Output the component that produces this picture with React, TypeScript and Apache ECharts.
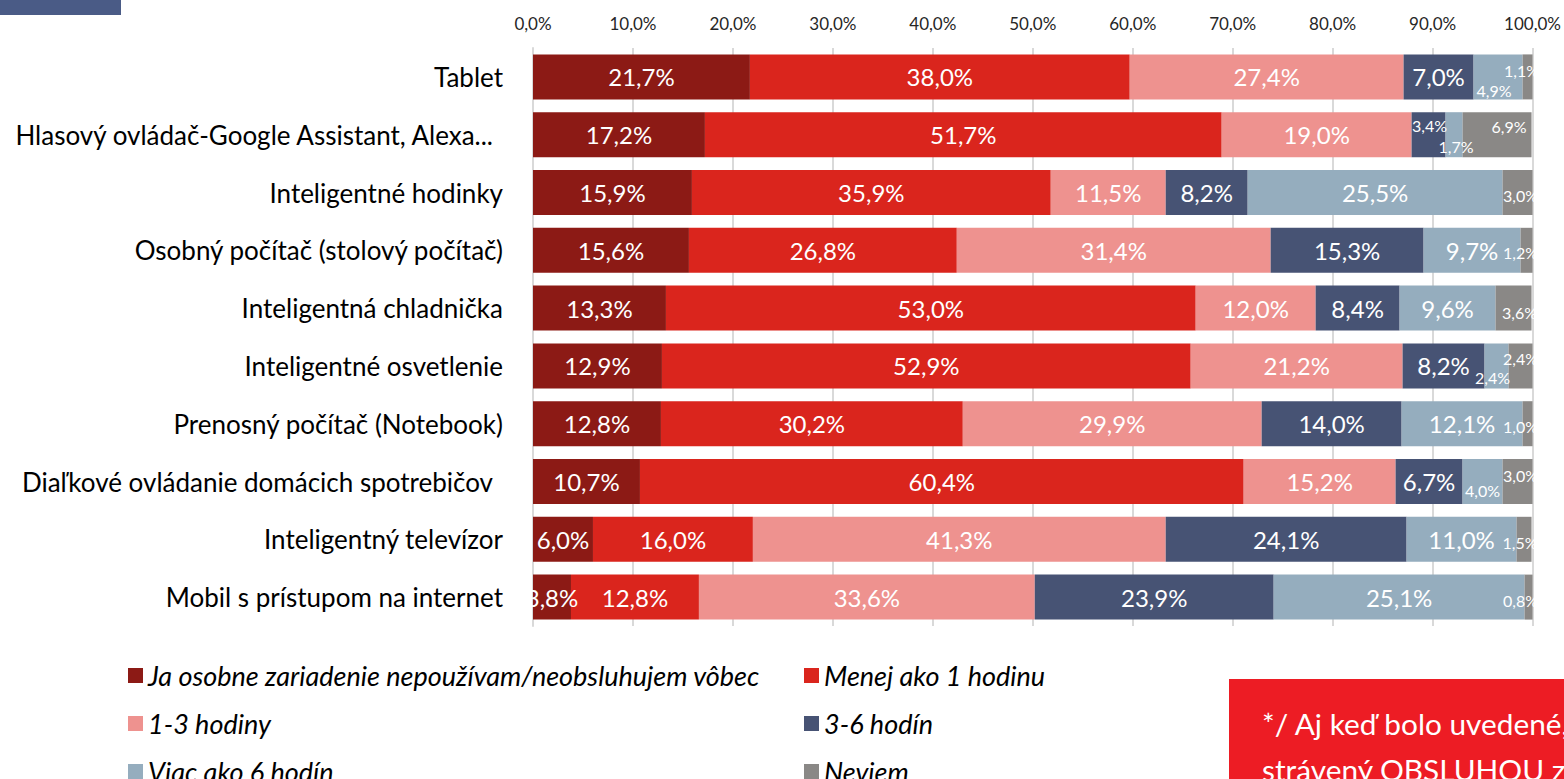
import React, { useEffect, useRef } from "react";
import * as echarts from "echarts";

const categories = [
  "Tablet",
  "Hlasový ovládač-Google Assistant, Alexa...",
  "Inteligentné hodinky",
  "Osobný počítač (stolový počítač)",
  "Inteligentná chladnička",
  "Inteligentné osvetlenie",
  "Prenosný počítač (Notebook)",
  "Diaľkové ovládanie domácich spotrebičov",
  "Inteligentný televízor",
  "Mobil s prístupom na internet",
];

const seriesNames = [
  "Ja osobne zariadenie nepoužívam/neobsluhujem vôbec",
  "Menej ako 1 hodinu",
  "1-3 hodiny",
  "3-6 hodín",
  "Viac ako 6 hodín",
  "Neviem",
];

const nepouzivam = [21.7, 17.2, 15.9, 15.6, 13.3, 12.9, 12.8, 10.7, 6.0, 3.8];
const menejAko1 = [38.0, 51.7, 35.9, 26.8, 53.0, 52.9, 30.2, 60.4, 16.0, 12.8];
const hodiny1_3 = [27.4, 19.0, 11.5, 31.4, 12.0, 21.2, 29.9, 15.2, 41.3, 33.6];
const hodin3_6 = [7.0, 3.4, 8.2, 15.3, 8.4, 8.2, 14.0, 6.7, 24.1, 23.9];
const viacAko6 = [4.9, 1.7, 25.5, 9.7, 9.6, 2.4, 12.1, 4.0, 11.0, 25.1];
const neviem = [1.1, 6.9, 3.0, 1.2, 3.6, 2.4, 1.0, 3.0, 1.5, 0.8];

const tickLabels = ["0,0%", "10,0%", "20,0%", "30,0%", "40,0%", "50,0%", "60,0%", "70,0%", "80,0%", "90,0%", "100,0%"];

const colors = ["#8C1A15", "#DA251D", "#EE928F", "#475374", "#95ADBE", "#8A8886"];

// style table for small labels: "series-row" -> label offset
const smallLabelOffsets: Record<string, number[]> = {
  "5-0": [-6, -6],
  "4-0": [-4, 14],
  "3-1": [1, -9],
  "4-1": [2, 12],
  "5-1": [12, -8],
  "5-2": [3, 3],
  "5-3": [-6, 2],
  "5-4": [6, 4],
  "4-5": [-4, 12],
  "5-5": [0, -7],
  "5-6": [-7, 3],
  "4-7": [0, 9],
  "5-7": [3, -6],
  "5-8": [-4, 3],
  "5-9": [-8, 3],
};

// style table: category labels that sit a bit left of the axis (trailing space in source)
const labelRightPad: Record<number, number> = { 1: 10, 7: 10 };

// legend layout: [left, top] per series
const legendPos = [
  [128, 662],
  [804, 662],
  [128, 710],
  [804, 710],
  [128, 758],
  [804, 758],
];

const FONT = "Lato, 'Noto Sans', sans-serif";
const fmt = (v: number) => v.toFixed(1).replace(".", ",") + "%";

export default function App() {
  const ref = useRef<HTMLDivElement>(null);
  useEffect(() => {
    document.body.style.margin = "0";
    if (!ref.current) return;
    const chart = echarts.init(ref.current, undefined, { renderer: "svg" });
    const allData = [nepouzivam, menejAko1, hodiny1_3, hodin3_6, viacAko6, neviem];
    const series = allData.map((arr, si) => ({
      name: seriesNames[si],
      type: "bar",
      stack: "total",
      barWidth: 45,
      itemStyle: { color: colors[si] },
      label: {
        show: true,
        position: "inside",
        color: "#FFFFFF",
        fontFamily: FONT,
        fontSize: 24,
        formatter: (p: any) => fmt(p.value),
      },
      data: arr.map((v, ri) => {
        const off = smallLabelOffsets[`${si}-${ri}`];
        if (!off) return v;
        return { value: v, label: { fontSize: 16, offset: off } };
      }),
    }));

    const legendText = {
      fontSize: 27,
      fontStyle: "italic",
      fontFamily: FONT,
      color: "#000000",
      lineHeight: 18,
    };

    const legends = seriesNames.map((n, i) => ({
      left: legendPos[i][0],
      top: legendPos[i][1],
      orient: "vertical",
      padding: 0,
      icon: "rect",
      itemWidth: 15,
      itemHeight: 15,
      itemGap: 5,
      data: [n],
      textStyle: legendText,
    }));

    chart.setOption({
      animation: false,
      grid: { left: 533, right: 27, top: 48, bottom: 153, containLabel: false },
      xAxis: {
        type: "value",
        position: "top",
        min: 0,
        max: 100,
        interval: 10,
        axisLine: { show: false },
        axisTick: { show: false },
        axisLabel: {
          fontSize: 17,
          fontFamily: FONT,
          color: "#262626",
          margin: 16,
          formatter: (v: number) => tickLabels[Math.round(v / 10)],
        },
        splitLine: { show: true, lineStyle: { color: "#D9D9D9", width: 2 } },
      },
      yAxis: {
        type: "category",
        inverse: true,
        data: categories,
        axisLine: { show: true, lineStyle: { color: "#D9D9D9", width: 2 } },
        axisTick: { show: false },
        axisLabel: {
          fontSize: 26,
          fontFamily: FONT,
          color: "#000000",
          margin: 30,
          formatter: (v: string, idx: number) => (labelRightPad[idx] ? `{p|${v}}` : v),
          rich: {
            p: { fontSize: 26, fontFamily: FONT, color: "#000000", padding: [0, 10, 0, 0] },
          },
        },
      },
      legend: legends,
      graphic: [
        { type: "rect", left: 0, top: 0, shape: { width: 121, height: 15 }, style: { fill: "#4A5B86" } },
        { type: "rect", left: 1229, top: 679, shape: { width: 340, height: 110 }, style: { fill: "#ED1C24" } },
        {
          type: "text",
          left: 1262,
          top: 700,
          style: {
            text: "*/ Aj keď bolo uvedené,\nstrávený OBSLUHOU zariadenia",
            fill: "#FFFFFF",
            fontSize: 29.8,
            fontFamily: FONT,
            lineHeight: 46,
          },
        },
      ],
      series,
    });
    return () => chart.dispose();
  }, []);
  return <div ref={ref} style={{ width: 1564, height: 779 }} />;
}
